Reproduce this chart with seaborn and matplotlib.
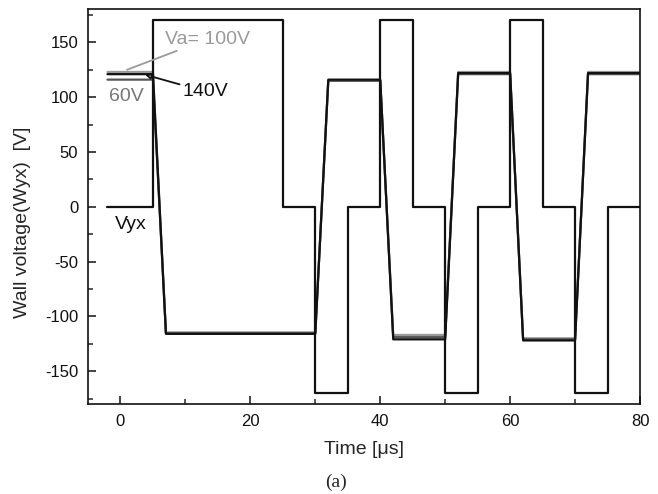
import matplotlib
matplotlib.use("Agg")
import matplotlib.pyplot as plt
import seaborn as sns
import pandas as pd
from matplotlib.ticker import MultipleLocator

# ---- data ----
vyx_t = [-2, 5, 5, 25, 25, 30, 30, 35, 35, 40, 40, 45, 45, 50, 50, 55, 55, 60, 60, 65, 65, 70, 70, 75, 75, 80]
vyx_v = [0, 0, 170, 170, 0, 0, -170, -170, 0, 0, 170, 170, 0, 0, -170, -170, 0, 0, 170, 170, 0, 0, -170, -170, 0, 0]

wall_t = [-2, 5, 7, 30, 32, 40, 42, 50, 52, 60, 62, 70, 72, 80]
wall_100 = [123, 123, -115, -115, 115, 115, -117, -117, 123, 123, -120, -120, 123, 123]
wall_60 = [116, 116, -115, -115, 115, 115, -119, -119, 121, 121, -121, -121, 121, 121]
wall_140 = [121, 121, -116, -116, 116, 116, -121, -121, 122, 122, -122, -122, 122, 122]

x_ticks = [0, 20, 40, 60, 80]
y_ticks = [-150, -100, -50, 0, 50, 100, 150]

sns.set_style("ticks")
plt.rcParams['font.family'] = ['Liberation Sans', 'DejaVu Sans']
plt.rcParams['axes.unicode_minus'] = False

fig = plt.figure(figsize=(6.58, 4.94), dpi=100)
ax = fig.add_axes([88/658, 90/494, (640-88)/658, (404-9.5)/494])

lw = 1.6
series = [
    (wall_t, wall_100, "#9a9a9a"),
    (wall_t, wall_60, "#555555"),
    (wall_t, wall_140, "#111111"),
    (vyx_t, vyx_v, "#111111"),
]
for t, v, c in series:
    df = pd.DataFrame({"t": t, "v": v})
    sns.lineplot(data=df, x="t", y="v", ax=ax, color=c, lw=lw, sort=False,
                 estimator=None)

ax.set_xlim(-5, 80)
ax.set_ylim(-180, 180)
ax.set_xticks(x_ticks)
ax.set_yticks(y_ticks)
ax.xaxis.set_minor_locator(MultipleLocator(10))
ax.yaxis.set_minor_locator(MultipleLocator(25))
ax.tick_params(which='major', direction='in', length=6, width=1.1, labelsize=12,
               colors='#111111', pad=7)
ax.tick_params(which='minor', direction='in', length=3.5, width=1.1)
for s in ax.spines.values():
    s.set_linewidth(1.2)
    s.set_color('#111111')

ax.set_xlabel("Time [\u03bcs]", fontsize=14)
ax.set_ylabel("Wall voltage(Wyx)  [V]", fontsize=14)
ax.xaxis.set_label_coords(0.5, -(449-404)/394.5, transform=ax.transAxes)
ax.yaxis.set_label_coords((23-88)/552, (404-222)/394.5, transform=ax.transAxes)
ax.xaxis.label.set_va('center')
ax.yaxis.label.set_va('center')

# annotations
ax.annotate("Va= 100V", xy=(1.0, 125), xytext=(6.9, 153), fontsize=14,
            color="#9a9a9a", va='center', ha='left',
            arrowprops=dict(arrowstyle='-', color="#9a9a9a", lw=1.3,
                            shrinkA=0, shrinkB=0))
ax.annotate("140V", xy=(3.8, 120.5), xytext=(9.6, 105), fontsize=14,
            color="#111111", va='center', ha='left',
            arrowprops=dict(arrowstyle='-|>', color="#111111", lw=1.3,
                            shrinkA=0, shrinkB=0, mutation_scale=8,
                            fc='white'))
ax.text(0.85, 100.5, "60V", fontsize=14, color="#777777", ha='center', va='center')
ax.text(-0.8, -16, "Vyx", fontsize=14, color="#111111", ha='left', va='center')

fig.text(336/658, 1 - 482/494, "(a)", fontsize=14, ha='center', va='center',
         family=['Liberation Serif', 'DejaVu Serif'])

fig.savefig("out.png", dpi=100)
